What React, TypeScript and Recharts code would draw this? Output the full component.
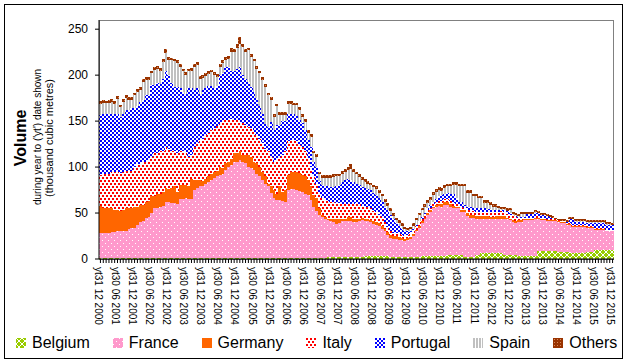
import { Bar, BarChart, XAxis, YAxis } from "recharts";

const FONT = "'Liberation Sans', Arial, sans-serif";

// monthly, Dec 2000 .. Dec 2015 (thousand m3, year to date shown)
const months = Array.from({ length: 181 }, (_, i) => {
  const t = 11 + i;
  return `${2000 + Math.floor(t / 12)}-${String((t % 12) + 1).padStart(2, "0")}`;
});

const tickLabels = [
  "yt31 12 2000", "yt30 06 2001", "yt31 12 2001", "yt30 06 2002", "yt31 12 2002",
  "yt30 06 2003", "yt31 12 2003", "yt30 06 2004", "yt31 12 2004", "yt30 06 2005",
  "yt31 12 2005", "yt30 06 2006", "yt31 12 2006", "yt30 06 2007", "yt31 12 2007",
  "yt30 06 2008", "yt31 12 2008", "yt30 06 2009", "yt31 12 2009", "yt30 06 2010",
  "yt31 12 2010", "yt30 06 2011", "yt31 12 2011", "yt30 06 2012", "yt31 12 2012",
  "yt30 06 2013", "yt31 12 2013", "yt30 06 2014", "yt31 12 2014", "yt30 06 2015",
  "yt31 12 2015",
];

const belgium = [
  1, 1, 1, 1, 1, 1, 1, 1, 1, 1,
  1, 1, 1, 1, 1, 1, 1, 1, 1, 1,
  1, 1, 1, 1, 1, 1, 1, 1, 1, 1,
  1, 1, 1, 1, 1, 1, 1, 1, 1, 1,
  1, 1, 1, 1, 1, 1, 1, 1, 1, 1,
  1, 1, 1, 1, 1, 1, 1, 1, 1, 1,
  1, 1, 1, 1, 1, 1, 1, 1, 1, 1,
  1, 1, 1, 1, 1, 1, 1, 1, 1, 1,
  2, 2, 2, 2, 2, 2, 2, 2, 2, 2,
  2, 2, 2, 3, 3, 3, 3, 3, 3, 3,
  3, 3, 2, 2, 2, 2, 2, 2, 2, 2,
  2, 2, 2, 3, 3, 3, 3, 3, 3, 3,
  3, 3, 4, 4, 4, 4, 4, 4, 2, 2,
  2, 2, 4, 4, 6, 6, 6, 6, 6, 6,
  6, 6, 4, 4, 4, 4, 4, 3, 3, 3,
  3, 3, 3, 3, 9, 9, 9, 9, 9, 9,
  9, 8, 8, 8, 8, 8, 6, 6, 6, 6,
  6, 8, 8, 8, 10, 10, 10, 10, 10, 10,
  10,
];

const france = [
  27, 27, 27, 27, 28, 28, 29, 29, 29, 30,
  32, 33, 33, 36, 39, 40, 44, 45, 49, 54,
  55, 56, 57, 61, 61, 60, 60, 59, 64, 64,
  65, 64, 64, 74, 76, 78, 78, 81, 83, 85,
  87, 89, 90, 92, 96, 99, 101, 104, 105, 107,
  105, 103, 99, 98, 96, 92, 89, 85, 81, 78,
  71, 65, 63, 63, 62, 61, 74, 75, 75, 74,
  73, 72, 70, 69, 63, 56, 51, 47, 45, 43,
  40, 39, 38, 36, 37, 39, 39, 39, 39, 38,
  38, 39, 40, 38, 38, 37, 35, 34, 33, 30,
  27, 23, 21, 20, 20, 19, 18.5, 18, 19, 20,
  23, 28, 32, 36, 40, 45, 48, 52, 54, 55,
  54, 56, 55, 53, 51, 51, 51, 47, 49, 45,
  43, 43, 40, 40, 38, 38, 38, 37, 38, 38,
  38, 38, 40, 39, 38, 36, 35, 37, 37, 39,
  39, 39, 39, 41, 35, 33, 33, 32, 32, 32,
  32, 32, 31, 31, 29, 29, 29, 29, 29, 29,
  29, 26, 26, 26, 22, 22, 22, 22, 20, 20,
  20,
];

const germany = [
  30, 28, 28, 27, 26, 24, 23, 22, 23, 24,
  22, 21, 23, 20, 19, 18, 17, 17, 18, 13,
  15, 14, 15, 15, 14, 16, 18, 13, 15, 15,
  14, 14, 22, 11, 9, 7, 6, 5, 6, 7,
  7, 6, 9, 6, 7, 6, 7, 10, 9, 9,
  7, 9, 13, 12, 9, 11, 10, 9, 8, 3,
  7, 9, 7, 15, 10, 13, 16, 19, 19, 20,
  20, 18, 19, 16, 15, 13, 14, 7, 2, 2,
  2, 2, 3, 5, 5, 3, 3, 5, 5, 4,
  3, 3, 3, 3, 2, 2, 3, 3, 3, 3,
  3, 3, 3, 3, 3, 3, 2.5, 2, 2, 2,
  2, 2, 2, 2, 2, 2, 2, 2, 2, 2,
  3, 3, 3, 3, 3, 2, 2, 2, 2, 3,
  3, 3, 3, 3, 3, 3, 3, 3, 2, 3,
  3, 3, 3, 2, 2, 2, 2, 2, 2, 1,
  1, 1, 1, 1, 1, 1, 1, 1, 1, 1,
  1, 1, 1, 1, 1, 1, 1, 1, 1, 1,
  1, 1, 1, 1, 1, 1, 1, 1, 1, 1,
  1,
];

const italy = [
  33, 37, 37, 38, 40, 42, 42, 42, 42, 41,
  41, 41, 43, 46, 44, 47, 44, 47, 43, 47,
  44, 46, 44, 45, 44, 40, 38, 42, 37, 37,
  36, 32, 26, 36, 40, 43, 46, 48, 47, 47,
  47, 49, 47, 50, 47, 45, 43, 36, 36, 32,
  35, 33, 31, 31, 32, 31, 31, 31, 30, 35,
  32, 31, 37, 32, 40, 42, 37, 34, 34, 33,
  30, 31, 27, 24, 21, 20, 16, 16, 18, 18,
  19, 19, 19, 18, 17, 16, 16, 14, 14, 16,
  18, 16, 13, 13, 14, 13, 11, 11, 9, 10,
  7, 6, 4, 3, 3, 3, 3, 3, 3, 4,
  5, 4, 5, 3, 3, 3, 3, 3, 3, 3,
  3, 3, 3, 3, 3, 3, 3, 4, 3, 3,
  5, 4, 4, 4, 4, 4, 4, 5, 5, 4,
  4, 5, 4, 4, 4, 5, 5, 3, 3, 2,
  2, 2, 2, 2, 2, 2, 2, 2, 2, 2,
  1, 1, 1, 1, 1, 1, 1, 1, 1, 1,
  1, 1, 1, 1, 1, 1, 1, 1, 1, 1,
  1,
];

const portugal = [
  66, 65, 65, 65, 63, 63, 63, 61, 63, 66,
  66, 68, 64, 63, 68, 67, 72, 68, 78, 74,
  76, 73, 79, 82, 80, 74, 70, 72, 69, 65,
  64, 75, 73, 62, 60, 51, 53, 51, 51, 48,
  44, 43, 53, 53, 58, 58, 53, 53, 56, 60,
  52, 50, 49, 45, 44, 40, 35, 32, 27, 27,
  38, 34, 38, 35, 37, 33, 30, 29, 29, 28,
  27, 26, 23, 20, 22, 15, 18, 14, 14, 15,
  16, 16, 16, 18, 19, 24, 26, 27, 26, 24,
  21, 20, 20, 20, 19, 20, 20, 19, 18, 16,
  17, 18, 18, 16, 11, 9, 7, 6, 4, 3,
  1, 1, 0.5, 2, 2, 2, 3, 2, 3, 5,
  7, 6, 7, 8, 10, 6, 2, 5, 3, 4,
  4, 4, 4, 4, 4, 4, 3, 3, 2, 2,
  2, 1, 2, 3, 2, 1, 1, 1, 1, 1,
  3.5, 3.5, 3.5, 3.5, 2.5, 2.5, 2.5, 2.5, 1.5, 0.5,
  0, 0, 0, 0, 1, 4.5, 6.5, 3.5, 3.5, 3.5,
  3.5, 3.5, 3.5, 3.5, 5.5, 5.5, 5.5, 5.5, 5.5, 5.5,
  4.5,
];

const spain = [
  12, 12, 12, 12, 13, 11, 16, 10, 13, 13,
  11, 9, 14, 16, 13, 20, 17, 17, 13, 17,
  16, 15, 18, 20, 17, 25, 28, 26, 23, 22,
  20, 18, 19, 25, 25, 16, 13, 13, 13, 15,
  14, 10, 9, 11, 8, 9, 20, 21, 22, 25,
  31, 29, 34, 33, 33, 32, 36, 37, 40, 34,
  24, 15, 20, 11, 7, 7, 11, 11, 9, 11,
  11, 7, 9, 7, 11, 10, 11, 7, 8, 9,
  9, 10, 11, 11, 10, 9, 9, 10, 12, 11,
  10, 9, 8, 7, 6, 5, 6, 6, 6, 6,
  5, 5, 4, 3, 3, 3, 3, 2, 2, 2,
  3, 5, 6, 7, 7, 6, 5, 8, 8, 7,
  4, 6, 7, 8, 10, 15, 17, 17, 20, 15,
  15, 12, 13, 11, 11, 6, 7, 5, 4, 4,
  2, 1, 1, 0.5, 3, 1, 1, 1, 3, 3,
  0.5, 0.5, 0.5, 0.5, 0.5, 0.5, 0.5, 0.5, 0.5, 0.5,
  0.5, 0.5, 0.5, 0.5, 0.5, 0.5, 0.5, 0.5, 0.5, 0.5,
  0.5, 0.5, 0.5, 0.5, 0.5, 0.5, 0.5, 0.5, 0.5, 0.5,
  0.5,
];

const others = [
  3, 3, 2, 3, 3, 3, 3, 3, 3, 3,
  3, 3, 3, 3, 3, 3, 3, 3, 3, 3,
  3, 3, 4, 4, 3, 3, 3, 3, 3, 3,
  3, 3, 3, 3, 3, 3, 3, 3, 3, 3,
  3, 3, 3, 3, 3, 3, 4, 3, 5, 7,
  3, 3, 3, 3, 3, 3, 3, 3, 3, 3,
  3, 3, 3, 3, 3, 3, 3, 3, 3, 3,
  3, 3, 3, 3, 3, 3, 3, 3, 3, 3,
  3, 3, 3, 3, 3, 3, 3, 3, 5, 3,
  3, 3, 3, 3, 3, 3, 3, 3, 3, 3,
  3, 3, 3, 3, 3, 3, 3, 2, 2, 2,
  3, 3, 3, 3, 3, 3, 3, 3, 3, 3,
  3, 3, 3, 3, 3, 3, 3, 3, 3, 3,
  3, 3, 3, 3, 3, 3, 3, 3, 3, 3,
  3, 3, 3, 2.5, 2, 2, 2, 2, 2, 2,
  2, 2, 2, 2, 2, 2, 2, 2, 2, 2,
  1.5, 1.5, 1.5, 1.5, 1.5, 2, 2, 2, 2, 2,
  2, 2, 2, 2, 2, 2, 2, 2, 2, 2,
  2,
];

const series = [
  { name: "Belgium", values: belgium, fill: "url(#p-belgium)" },
  { name: "France", values: france, fill: "url(#p-france)" },
  { name: "Germany", values: germany, fill: "#FF6600" },
  { name: "Italy", values: italy, fill: "url(#p-italy)" },
  { name: "Portugal", values: portugal, fill: "url(#p-portugal)" },
  { name: "Spain", values: spain, fill: "url(#p-spain)" },
  { name: "Others", values: others, fill: "url(#p-others)" },
];

const data = months.map((month, i) => {
  const row: Record<string, string | number> = { month };
  series.forEach((s) => (row[s.name] = s.values[i]));
  return row;
});

function MonthTick(props: any) {
  const { x, y, payload } = props;
  const i = months.indexOf(payload.value);
  if (i % 6 !== 0) return <g />;
  const lx = x - 2;
  const ly = y + 2;
  return (
    <text
      x={lx}
      y={ly}
      dy="0.35em"
      transform={`rotate(90, ${lx}, ${ly})`}
      fontSize={10}
      fontFamily={FONT}
      fill="#000"
      style={{ whiteSpace: "pre" }}
    >
      {tickLabels[i / 6]}
    </text>
  );
}

function Patterns() {
  return (
    <defs>
      <pattern id="p-belgium" width="6" height="6" patternUnits="userSpaceOnUse">
        <rect width="6" height="6" fill="#99CC00" />
        <path d="M0,0 L6,6 M6,0 L0,6" stroke="#fff" strokeWidth="1" />
      </pattern>
      <pattern id="p-france" width="6" height="6" patternUnits="userSpaceOnUse">
        <rect width="6" height="6" fill="#FF99CC" />
        <rect x="0" y="0" width="1" height="1" fill="#fff" />
        <rect x="3" y="3" width="1" height="1" fill="#fff" />
      </pattern>
      <pattern id="p-italy" width="4" height="6" patternUnits="userSpaceOnUse">
        <rect width="4" height="6" fill="#fff" />
        <rect x="0" y="0" width="2" height="2" fill="#FF0000" />
        <rect x="2" y="3" width="2" height="2" fill="#FF0000" />
      </pattern>
      <pattern id="p-portugal" width="4" height="4" patternUnits="userSpaceOnUse">
        <rect width="4" height="4" fill="#fff" />
        <rect x="0" y="0" width="2" height="2" fill="#0000FF" />
        <rect x="2" y="2" width="2" height="2" fill="#0000FF" />
      </pattern>
      <pattern id="p-spain" width="3" height="3" patternUnits="userSpaceOnUse">
        <rect width="3" height="3" fill="#fff" />
        <rect x="0" y="0" width="2" height="3" fill="#C0C0C0" />
      </pattern>
      <pattern id="p-others" width="3" height="3" patternUnits="userSpaceOnUse">
        <rect width="3" height="3" fill="#993300" />
        <rect x="1" y="1" width="1" height="1" fill="#D9895A" />
      </pattern>
    </defs>
  );
}

export default function App() {
  return (
    <div
      style={{
        position: "absolute",
        left: 0,
        top: 0,
        width: 628,
        height: 363,
        background: "#fff",
        fontFamily: FONT,
      }}
    >
      <style>{`.recharts-bar-rectangle path { shape-rendering: crispEdges; }`}</style>
      <svg width={628} height={363} style={{ position: "absolute", left: 0, top: 0 }}>
        <Patterns />
        <rect x={4.5} y={4.5} width={618} height={354} fill="#fff" stroke="#000" />
        <rect x={99.5} y={20.5} width={514} height={239} fill="none" stroke="#808080" />
        <text
          transform="translate(26,138) rotate(-90)"
          textAnchor="middle"
          fontSize={16}
          fontWeight="bold"
          fontFamily={FONT}
        >
          Volume
        </text>
        <text transform="translate(41,137) rotate(-90)" textAnchor="middle" fontSize={10} fontFamily={FONT}>
          during year to ('yt') date shown
        </text>
        <text transform="translate(52.5,138) rotate(-90)" textAnchor="middle" fontSize={11} fontFamily={FONT}>
          (thousand cubic metres)
        </text>
      </svg>

      <div style={{ position: "absolute", left: 0, top: 0 }}>
        <BarChart
          width={628}
          height={363}
          data={data}
          margin={{ top: 20, right: 14, bottom: 0, left: 0 }}
          barCategoryGap={0}
          barGap={0}
        >
          <XAxis
            dataKey="month"
            interval={0}
            height={104}
            tickSize={4}
            tickLine={{ stroke: "#000" }}
            axisLine={{ stroke: "#000" }}
            tick={(p: any) => <MonthTick {...p} />}
          />
          <YAxis
            width={99}
            domain={[0, 260]}
            ticks={[0, 50, 100, 150, 200, 250]}
            tickSize={4}
            tickMargin={7}
            tickLine={{ stroke: "#000" }}
            axisLine={{ stroke: "#000" }}
            tick={{ fontSize: 12, fill: "#000", fontFamily: FONT }}
          />
          {series.map((s) => (
            <Bar
              key={s.name}
              dataKey={s.name}
              stackId="v"
              fill={s.fill}
              isAnimationActive={false}
            />
          ))}
        </BarChart>
      </div>

      <div
        style={{
          position: "absolute",
          left: 16,
          top: 334,
          display: "flex",
          alignItems: "center",
          columnGap: 23,
          fontSize: 16,
          lineHeight: "18px",
          color: "#000",
          whiteSpace: "nowrap",
        }}
      >
        {series.map((s) => (
          <div key={s.name} style={{ display: "flex", alignItems: "center" }}>
            <svg width={10} height={10} style={{ marginRight: 6 }}>
              <rect width={10} height={10} fill={s.fill} />
            </svg>
            <span>{s.name}</span>
          </div>
        ))}
      </div>
    </div>
  );
}
